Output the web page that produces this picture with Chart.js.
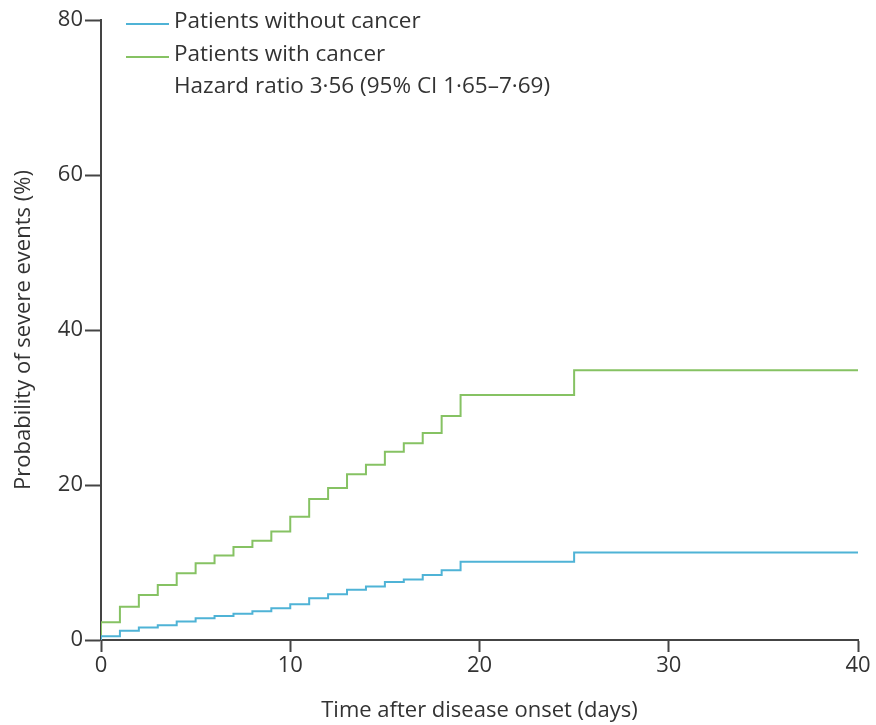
<!DOCTYPE html>
<html>
<head>
<meta charset="utf-8">
<script src="https://cdn.jsdelivr.net/npm/chart.js@4/dist/chart.umd.min.js"></script>
<style>
  html, body { margin: 0; padding: 0; background: #fff; }
  #wrap { width: 876px; height: 725px; }
</style>
</head>
<body>
<div id="wrap"><canvas id="c" width="876" height="725"></canvas></div>
<script>
// Time points (days) where the Kaplan–Meier style curves step
const days = [0, 0, 1, 2, 3, 4, 5, 6, 7, 8, 9, 10, 11, 12, 13, 14, 15, 16, 17, 18, 19, 25, 40];
// Cumulative probability of severe events (%)
const withoutCancer = [0, 0.5, 1.2, 1.6, 1.9, 2.4, 2.8, 3.1, 3.4, 3.7, 4.1, 4.6, 5.4, 5.9, 6.5, 6.9, 7.5, 7.8, 8.4, 9.0, 10.1, 11.3, 11.3];
const withCancer    = [0, 2.3, 4.3, 5.8, 7.1, 8.6, 9.9, 10.9, 12.0, 12.8, 14.0, 15.9, 18.2, 19.6, 21.4, 22.6, 24.3, 25.4, 26.7, 28.9, 31.6, 34.8, 34.8];
const seriesLabels = ['Patients without cancer', 'Patients with cancer'];
const noteText = 'Hazard ratio 3·56 (95% CI 1·65–7·69)';
const xTicks = [0, 10, 20, 30, 40];
const yTicks = [0, 20, 40, 60, 80];
const xTitle = 'Time after disease onset (days)';
const yTitle = 'Probability of severe events (%)';

const FONT = '"Open Sans", "DejaVu Sans", sans-serif';
const BLUE = '#4fb3d6';
const GREEN = '#86c263';
const AXIS = '#444444';
const TEXT = '#333333';

const toXY = (vals) => days.map((d, i) => ({ x: d, y: vals[i] }));

const legendPlugin = {
  id: 'insideLegend',
  afterDraw(chart) {
    const ctx = chart.ctx;
    const area = chart.chartArea;
    ctx.save();
    ctx.font = '22.5px ' + FONT;
    ctx.fillStyle = TEXT;
    ctx.textBaseline = 'middle';
    ctx.textAlign = 'left';
    const x0 = area.left + 25, x1 = area.left + 68, tx = area.left + 73;
    const rows = [area.top + 2, area.top + 35, area.top + 67];
    chart.data.datasets.forEach((ds, i) => {
      ctx.strokeStyle = ds.borderColor;
      ctx.lineWidth = 2;
      ctx.beginPath();
      ctx.moveTo(x0, rows[i] + 2);
      ctx.lineTo(x1, rows[i] + 2);
      ctx.stroke();
      ctx.fillText(ds.label, tx, rows[i]);
    });
    ctx.fillText(noteText, tx, rows[2]);
    ctx.restore();
  }
};

new Chart(document.getElementById('c'), {
  type: 'line',
  data: {
    datasets: [
      { label: seriesLabels[0], data: toXY(withoutCancer), borderColor: BLUE, borderWidth: 2, stepped: true, pointRadius: 0, fill: false },
      { label: seriesLabels[1], data: toXY(withCancer), borderColor: GREEN, borderWidth: 2, stepped: true, pointRadius: 0, fill: false }
    ]
  },
  options: {
    responsive: false,
    animation: false,
    layout: { padding: { top: 20, right: 18, left: 0, bottom: 0 } },
    plugins: { legend: { display: false }, tooltip: { enabled: false } },
    scales: {
      x: {
        type: 'linear', min: 0, max: 40,
        afterBuildTicks: (s) => { s.ticks = xTicks.map(v => ({ value: v })); },
        afterFit: (s) => { s.height = 85; },
        grid: { drawOnChartArea: false, drawTicks: true, tickLength: 12, color: AXIS, tickWidth: 2 },
        border: { color: AXIS, width: 2 },
        ticks: { color: TEXT, font: { family: FONT, size: 22 }, padding: 1, maxRotation: 0 },
        title: { display: true, text: xTitle, color: TEXT, font: { family: FONT, size: 22 }, padding: { bottom: 1, top: 0 } }
      },
      y: {
        type: 'linear', min: 0, max: 80,
        afterBuildTicks: (s) => { s.ticks = yTicks.map(v => ({ value: v })); },
        afterFit: (s) => { s.width = 101; },
        grid: { drawOnChartArea: false, drawTicks: true, tickLength: 16, color: AXIS, tickWidth: 2 },
        border: { color: AXIS, width: 2 },
        ticks: { color: TEXT, font: { family: FONT, size: 22 }, padding: 2 },
        title: { display: true, text: yTitle, color: TEXT, font: { family: FONT, size: 22 }, padding: { top: 11, bottom: 0 } }
      }
    }
  },
  plugins: [legendPlugin]
});
</script>
</body>
</html>
